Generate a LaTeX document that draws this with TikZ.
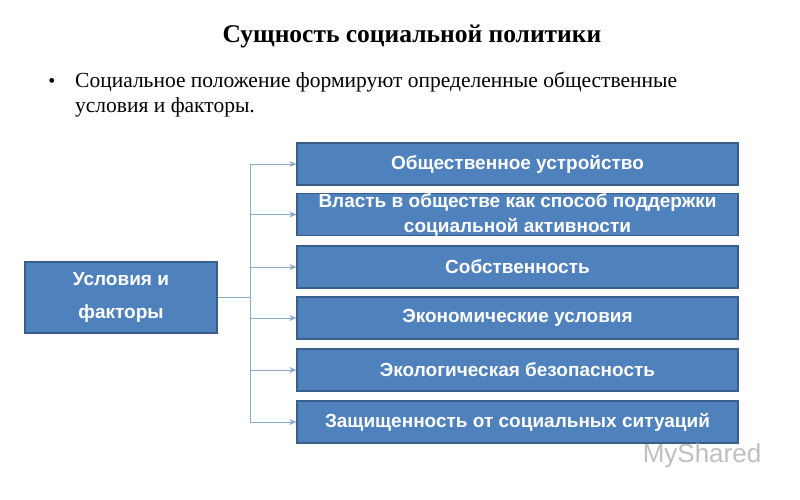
\documentclass[tikz,border=0pt]{standalone}
\usepackage{fontspec}
\setmainfont{Liberation Serif}
\newfontfamily\boxfont{Liberation Sans}
\usetikzlibrary{arrows.meta}
\definecolor{boxfill}{HTML}{4F81BD}
\definecolor{boxline}{HTML}{385D8A}
\definecolor{conn}{HTML}{8EA9C8}
\tikzset{
  bx/.style={draw=boxline, line width=1.2pt, fill=boxfill, text=white, font=\boxfont\bfseries\fontsize{19}{25}\selectfont, align=center, inner sep=0pt},
  rb/.style={bx, minimum width=441pt, minimum height=42pt},
  ln/.style={draw=conn, line width=0.8pt},
  ar/.style={ln, -{Stealth[length=7pt,width=6pt]}}
}
\begin{document}
\begin{tikzpicture}[x=1pt,y=-1pt]
\useasboundingbox (0,0) rectangle (800,500);
\fill[white] (0,0) rectangle (800,500);
\node[font=\bfseries\fontsize{25.5}{30}\selectfont] (title) at (412,36) {Сущность социальной политики};
\node[font=\fontsize{20}{24}\selectfont] (bul) at (52,83) {•};
\node[font=\fontsize{21.5}{25}\selectfont, align=left, anchor=north west, inner sep=0pt] (txt) at (75,72) {Социальное положение формируют определенные общественные\\условия и факторы.};
\node[bx, minimum width=192pt, minimum height=71pt, font=\boxfont\bfseries\fontsize{19}{33}\selectfont] (L) at (121,297.5) {Условия и\\факторы};
\node[rb] (b1) at (517.5,164) {Общественное устройство};
\node[rb] (b2) at (517.5,214.5) {Власть в обществе как способ поддержки\\социальной активности};
\node[rb] (b3) at (517.5,267) {Собственность};
\node[rb] (b4) at (517.5,318) {Экономические условия};
\node[rb] (b5) at (517.5,370) {Экологическая безопасность};
\node[rb] (b6) at (517.5,422) {Защищенность от социальных ситуаций};
\coordinate (j) at (250,297.5);
\coordinate (top) at (250,164);
\coordinate (bot) at (250,422);
\draw[ln] (L.east) -- (j);
\draw[ln] (top) -- (bot);
\foreach \b in {b1,b2,b3,b4,b5,b6}{
  \draw[ar] (top |- \b.west) -- (\b.west);
}
\node[text=black!25, font=\boxfont\fontsize{26}{28}\selectfont] (wm) at (702,456) {MyShared};
\end{tikzpicture}
\end{document}
